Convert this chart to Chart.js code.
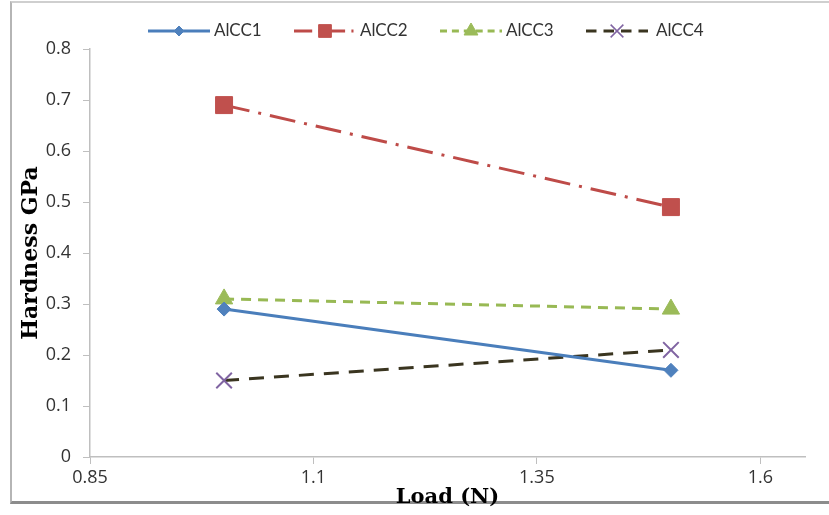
<!DOCTYPE html>
<html lang="en">
<head>
    <meta charset="UTF-8">
    <title>Hardness vs Load</title>
    <script src="https://cdn.jsdelivr.net/npm/chart.js"></script>
    <style>
        body { margin: 0; background: #fff; }
        .frame {
            position: absolute; left: 10px; top: 1px; width: 830px; height: 498px;
            border-left: 2px solid #b5b5b5; border-top: 2px solid #cfcfcf; border-bottom: 3px solid #8c8c8c;
        }
        #chart { position: absolute; left: 0; top: 0; }
    </style>
</head>
<body>
    <div class="frame"></div>
    <canvas id="chart" width="829" height="515"></canvas>

    <script>
        // data
        const loads = [1.0, 1.5];
        const seriesNames = ['AlCC1', 'AlCC2', 'AlCC3', 'AlCC4'];
        const alcc1 = [0.29, 0.17];
        const alcc2 = [0.69, 0.49];
        const alcc3 = [0.31, 0.29];
        const alcc4 = [0.15, 0.21];
        const xTicks = [0.85, 1.1, 1.35, 1.6];
        const yTicks = [0, 0.1, 0.2, 0.3, 0.4, 0.5, 0.6, 0.7, 0.8];

        const tickFont = { family: 'Open Sans', size: 18 };
        const titleFont = { family: 'DejaVu Serif', size: 21, weight: 'bold' };

        function pts(vals) {
            return vals.map((v, i) => ({ x: loads[i], y: v }));
        }

        const styles = [
            { line: '#4a7ebb', point: '#4f81bd', dash: [], pointStyle: 'rectRot', radius: 7, legendRadius: 5 },
            { line: '#be4b48', point: '#c0504d', dash: [26, 9, 3, 9], pointStyle: 'rect', radius: 12, legendRadius: 9 },
            { line: '#98b954', point: '#9bbb59', dash: [10, 7], pointStyle: 'triangle', radius: 10, legendRadius: 8 },
            { line: '#3a3520', point: '#8064a2', dash: [15, 10], pointStyle: 'crossRot', radius: 11, legendRadius: 9 }
        ];
        const values = [alcc1, alcc2, alcc3, alcc4];

        const datasets = seriesNames.map((name, i) => ({
            label: name,
            data: pts(values[i]),
            borderColor: styles[i].line,
            borderWidth: 3,
            borderDash: styles[i].dash,
            pointStyle: styles[i].pointStyle,
            pointRadius: styles[i].radius,
            pointBackgroundColor: styles[i].point,
            pointBorderColor: styles[i].point,
            pointBorderWidth: i === 3 ? 2 : 1,
            fill: false,
            tension: 0
        }));

        // legend in the Excel style: line sample with marker in the middle
        const lineLegend = {
            id: 'lineLegend',
            afterDraw(chart) {
                const ctx = chart.ctx;
                const y = 31;
                let x = 148;
                ctx.save();
                ctx.font = '17px Lato';
                ctx.textBaseline = 'middle';
                seriesNames.forEach((name, i) => {
                    const s = styles[i];
                    ctx.strokeStyle = s.line;
                    ctx.lineWidth = 3;
                    ctx.setLineDash(s.dash.length ? s.dash.map(d => d * 0.7) : []);
                    ctx.beginPath();
                    ctx.moveTo(x, y);
                    ctx.lineTo(x + 62, y);
                    ctx.stroke();
                    ctx.setLineDash([]);
                    ctx.fillStyle = s.point;
                    ctx.strokeStyle = s.point;
                    ctx.lineWidth = i === 3 ? 1.5 : 1;
                    Chart.helpers.drawPoint(ctx, { pointStyle: s.pointStyle, radius: s.legendRadius, rotation: 0, borderWidth: 1 }, x + 31, y);
                    ctx.fillStyle = '#333';
                    ctx.fillText(name, x + (i === 3 ? 70 : 66), y);
                    x += 146;
                });
                ctx.restore();
            }
        };

        new Chart(document.getElementById('chart'), {
            type: 'line',
            data: { datasets: datasets },
            options: {
                responsive: false,
                animation: false,
                layout: { padding: { left: 12, right: 24, top: 49, bottom: 0 } },
                plugins: { legend: { display: false }, tooltip: { enabled: false } },
                scales: {
                    x: {
                        type: 'linear',
                        min: 0.85,
                        max: 1.65,
                        afterBuildTicks(scale) { scale.ticks = xTicks.map(v => ({ value: v })); },
                        afterFit(scale) { scale.height = 58; },
                        border: { color: '#bfbfbf', width: 1.5 },
                        grid: { drawOnChartArea: false, color: '#bfbfbf', tickLength: 7 },
                        ticks: { font: tickFont, color: '#333', padding: 3, maxRotation: 0, callback: v => String(v) },
                        title: { display: true, text: 'Load (N)', font: titleFont, color: '#000', padding: { top: -16, bottom: 5 } }
                    },
                    y: {
                        min: 0,
                        max: 0.8,
                        afterBuildTicks(scale) { scale.ticks = yTicks.map(v => ({ value: v })); },
                        afterFit(scale) { scale.width = 78; },
                        border: { color: '#bfbfbf', width: 1.5 },
                        grid: { drawOnChartArea: false, color: '#bfbfbf', tickLength: 7 },
                        ticks: { font: tickFont, color: '#333', padding: 12, callback: v => String(Math.round(v * 10) / 10) },
                        title: { display: true, text: 'Hardness GPa', font: { family: 'DejaVu Serif', size: 22, weight: 'bold' }, color: '#000', padding: { top: 6, bottom: 0 } }
                    }
                }
            },
            plugins: [lineLegend]
        });
    </script>
</body>
</html>
